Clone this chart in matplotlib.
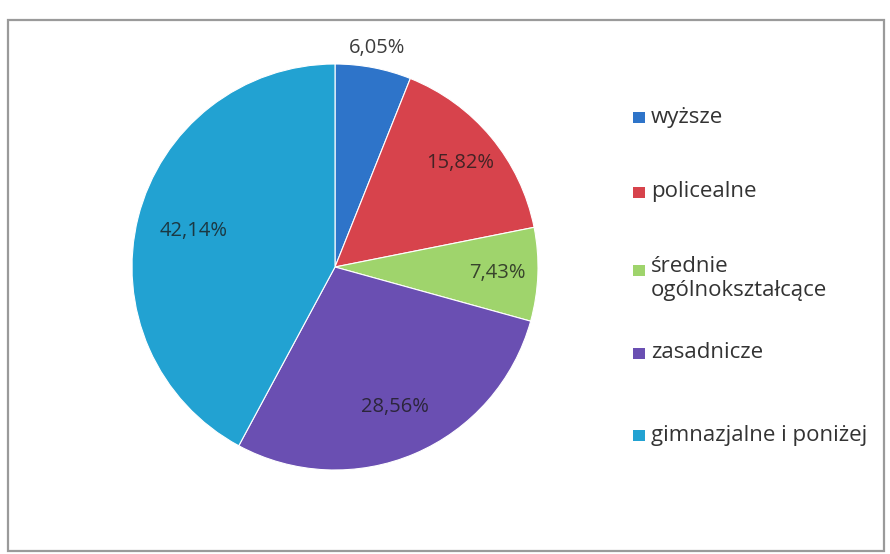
import numpy as np
import matplotlib
matplotlib.use("Agg")
import matplotlib.pyplot as plt
from matplotlib.patches import Rectangle

categories = ["wyższe", "policealne", "średnie\nogólnokształcące", "zasadnicze", "gimnazjalne i poniżej"]
values = [6.05, 15.82, 7.43, 28.56, 42.14]
colors = ["#2E74C9", "#D7434C", "#9FD46C", "#6A4FB2", "#22A2D2"]

plt.rcParams['font.family'] = ['Open Sans', 'DejaVu Sans']

W, H = 890, 554
fig = plt.figure(figsize=(W / 100, H / 100), dpi=100)
fig.patch.set_facecolor("white")

# frame
fig.add_artist(Rectangle((8 / W, 1 - 551 / H), (884 - 8) / W, (551 - 20) / H,
                         transform=fig.transFigure, fill=False,
                         edgecolor="#9a9a9a", linewidth=1.6))

cx, cy, r = 335, 267, 203
ax = fig.add_axes([(cx - r) / W, (H - cy - r) / H, 2 * r / W, 2 * r / H])

def fmt(p):
    return ("%.2f%%" % p).replace(".", ",")

wedges, texts, autotexts = ax.pie(values, colors=colors, startangle=90, counterclock=False,
                                  autopct=fmt, pctdistance=0.77,
                                  wedgeprops=dict(linewidth=0.8, edgecolor="white"),
                                  textprops=dict(fontsize=14.5, color="#1a1a1a", alpha=0.78))
ax.set_xlim(-1, 1)
ax.set_ylim(-1, 1)
ax.set_aspect("equal")

# label distances (first label sits outside the pie)
dists = [1.1, 0.8, 0.8, 0.75, 0.72]
total = sum(values)
cum = 0.0
for t, v, d in zip(autotexts, values, dists):
    ang = np.deg2rad(90 - (cum + v / 2) / total * 360)
    t.set_position((d * np.cos(ang), d * np.sin(ang)))
    cum += v
autotexts[0].set_alpha(0.85)

# legend drawn manually
ys = [117, 192, 270, 353, 435]
for cat, col, y in zip(categories, colors, ys):
    fig.add_artist(Rectangle((633 / W, 1 - (y + 6) / H), 12 / W, 11 / H,
                             transform=fig.transFigure, facecolor=col, edgecolor="none"))
    if "\n" in cat:
        fig.text(651 / W, 1 - (y - 14) / H, cat, fontsize=16, color="#333333",
                 va="top", ha="left", linespacing=1.2)
    else:
        fig.text(651 / W, 1 - y / H, cat, fontsize=16, color="#333333",
                 va="center", ha="left")

fig.savefig("out.png", dpi=100, facecolor="white")
